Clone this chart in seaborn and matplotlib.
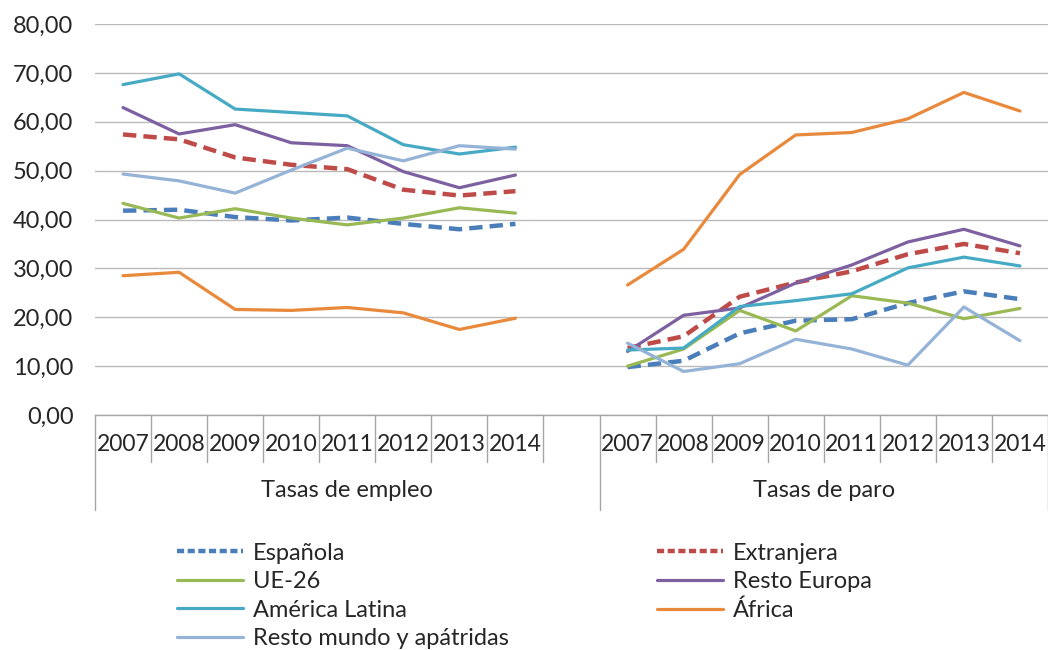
import pandas as pd
import numpy as np
import matplotlib
matplotlib.use('Agg')
import matplotlib.pyplot as plt
import seaborn as sns
from matplotlib.lines import Line2D
from matplotlib.ticker import FuncFormatter

anios = ['2007', '2008', '2009', '2010', '2011', '2012', '2013', '2014']
grupos = ['Tasas de empleo', 'Tasas de paro']
series = ['Española', 'Extranjera', 'UE-26', 'Resto Europa', 'América Latina',
          'África', 'Resto mundo y apátridas']

# tasas de empleo
espanola_empleo = [41.8, 42.0, 40.5, 39.8, 40.4, 39.1, 38.0, 39.1]
extranjera_empleo = [57.4, 56.4, 52.7, 51.2, 50.3, 46.1, 44.9, 45.8]
ue26_empleo = [43.3, 40.3, 42.2, 40.3, 38.9, 40.3, 42.4, 41.3]
resto_europa_empleo = [62.9, 57.5, 59.4, 55.7, 55.1, 49.8, 46.5, 49.1]
america_latina_empleo = [67.6, 69.8, 62.6, 61.9, 61.2, 55.3, 53.4, 54.8]
africa_empleo = [28.5, 29.2, 21.6, 21.4, 22.0, 20.9, 17.5, 19.8]
resto_mundo_empleo = [49.3, 47.9, 45.4, 50.1, 54.6, 52.0, 55.1, 54.4]

# tasas de paro
espanola_paro = [9.8, 11.1, 16.7, 19.3, 19.6, 22.9, 25.3, 23.7]
extranjera_paro = [13.7, 16.1, 24.2, 27.1, 29.4, 32.9, 35.0, 33.1]
ue26_paro = [10.0, 13.5, 21.4, 17.2, 24.4, 22.9, 19.7, 21.8]
resto_europa_paro = [13.0, 20.4, 21.9, 27.0, 30.7, 35.4, 38.0, 34.6]
america_latina_paro = [13.3, 13.7, 22.2, 23.4, 24.8, 30.1, 32.3, 30.5]
africa_paro = [26.6, 33.9, 49.2, 57.3, 57.8, 60.6, 66.0, 62.2]
resto_mundo_paro = [14.7, 8.9, 10.5, 15.5, 13.5, 10.2, 22.1, 15.2]

empleo = [espanola_empleo, extranjera_empleo, ue26_empleo, resto_europa_empleo,
          america_latina_empleo, africa_empleo, resto_mundo_empleo]
paro = [espanola_paro, extranjera_paro, ue26_paro, resto_europa_paro,
        america_latina_paro, africa_paro, resto_mundo_paro]

colores = {'Española': '#4A7EBB', 'Extranjera': '#BE4B48', 'UE-26': '#98B954',
           'Resto Europa': '#7D60A0', 'América Latina': '#46AAC5',
           'África': '#E8893C', 'Resto mundo y apátridas': '#95B3D7'}
discontinuas = ['Española', 'Extranjera']

# tabla larga: empleo en posiciones 0-7, hueco en 8, paro en 9-16
filas = []
for nombre, e, p in zip(series, empleo, paro):
    for i, a in enumerate(anios):
        filas.append({'serie': nombre, 'grupo': grupos[0], 'pos': i, 'valor': e[i]})
        filas.append({'serie': nombre, 'grupo': grupos[1], 'pos': i + 9, 'valor': p[i]})
df = pd.DataFrame(filas)

sns.set_theme(style='white')
plt.rcParams['font.family'] = ['Lato', 'DejaVu Sans']
texto = '#262626'

fig = plt.figure(figsize=(10.48, 6.5), dpi=100)
ax = fig.add_axes([95 / 1048, 1 - 415 / 650, 1 - 95 / 1048, (415 - 24) / 650])

for nombre in series:
    sub = df[df.serie == nombre]
    kw = {'dashes': (3, 1.6), 'linewidth': 3.2} if nombre in discontinuas else {'linewidth': 2.3}
    sns.lineplot(data=sub, x='pos', y='valor', units='grupo', estimator=None,
                 color=colores[nombre], ax=ax, legend=False, **kw)

ax.set_xlim(-0.5, 16.5)
ax.set_ylim(0, 80)
ax.set_yticks(np.arange(0, 81, 10))
ax.yaxis.set_major_formatter(FuncFormatter(lambda v, p: f'{v:.2f}'.replace('.', ',')))
ax.yaxis.grid(True, color='#BBBBBB', linewidth=1)
ax.xaxis.grid(False)
ax.set_axisbelow(True)
for s in ['left', 'top', 'right']:
    ax.spines[s].set_visible(False)
ax.spines['bottom'].set_color('#A6A6A6')
ax.spines['bottom'].set_linewidth(1)

posiciones = list(range(8)) + list(range(9, 17))
ax.set_xticks(posiciones)
ax.set_xticklabels(anios + anios)
ax.tick_params(axis='x', length=0, pad=13.5, labelsize=16.5, labelcolor=texto)
ax.tick_params(axis='y', length=0, pad=15.5, labelsize=17, labelcolor=texto)
ax.set_xlabel('')
ax.set_ylabel('')

# separadores de categorias bajo el eje
trans = ax.get_xaxis_transform()
for k in range(18):
    x = k - 0.5
    y0 = -0.243 if k in (0, 9, 17) else -0.120
    ax.plot([x, x], [0, y0], color='#A6A6A6', lw=1, transform=trans, clip_on=False)

ax.text(4, -0.192, grupos[0], transform=trans, ha='center', va='center', fontsize=17, color=texto)
ax.text(12.5, -0.192, grupos[1], transform=trans, ha='center', va='center', fontsize=17, color=texto)

def manejador(nombre):
    if nombre in discontinuas:
        return Line2D([], [], color=colores[nombre], lw=3.2, dashes=(1.6, 0.8))
    return Line2D([], [], color=colores[nombre], lw=2.3)

col1 = ['Española', 'UE-26', 'América Latina', 'Resto mundo y apátridas']
col2 = ['Extranjera', 'Resto Europa', 'África']
opts = dict(loc='upper left', frameon=False, borderpad=0, borderaxespad=0,
            handlelength=2.8, handletextpad=0.42, labelspacing=0.32, fontsize=17,
            labelcolor=texto, bbox_transform=fig.transFigure)
fig.legend([manejador(n) for n in col1], col1, bbox_to_anchor=(177 / 1048, 1 - 542.5 / 650), **opts)
fig.legend([manejador(n) for n in col2], col2, bbox_to_anchor=(657 / 1048, 1 - 542.5 / 650), **opts)

fig.savefig('out.png', dpi=100)
